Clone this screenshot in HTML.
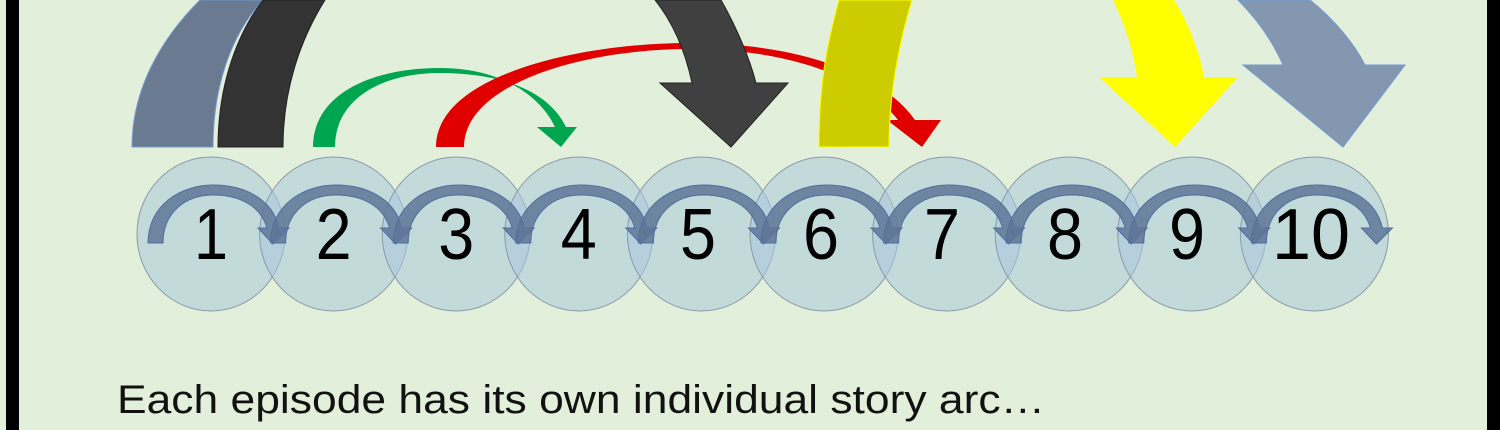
<!DOCTYPE html>
<html><head><meta charset="utf-8"><style>
html,body{margin:0;padding:0;background:#e2efda;}
svg{display:block}
</style></head><body>
<svg width="1500" height="430" viewBox="0 0 1500 430" xmlns="http://www.w3.org/2000/svg">
<rect width="1500" height="430" fill="#e2efda"/>
<rect x="6" y="0" width="13" height="430" fill="#000"/>
<rect x="1487" y="0" width="13" height="430" fill="#000"/>

<path d="M132,147 C132,90 160,40 200,0 L263,0 C235,30 213,80 213,147 Z" fill="#6a7a90" stroke="#6f9bd0" stroke-width="1"/>
<path d="M218,147 C218,80 240,30 263,0 L325,0 C300,40 283,90 283,147 Z" fill="#333" stroke="#222" stroke-width="1"/>

<path d="M313,147 C313,95 370,68 440,68 C500,68 540,95 555,127 L537,127 L561,147 L577,127 L566,127 C548,90 500,73 440,73 C380,73 335,100 335,147 Z" fill="#00a550"/>
<path d="M436,147 C436,75 580,43 690,43 C790,43 880,70 915,120 L941,120 L922,147 L887,120 L898,120 C865,78 790,49 690,49 C580,49 464,85 464,147 Z" fill="#e00000"/>

<path d="M655,0 L721,0 C738,30 750,60 756,83 L788,83 L731,147 L660,83 L692,83 C686,55 675,25 655,0 Z" fill="#404040" stroke="#222" stroke-width="1"/>
<path d="M819,147 C819,80 828,40 839,0 L912,0 C900,40 889,90 889,147 Z" fill="#cccc00" stroke="#ffff00" stroke-width="1"/>
<path d="M1113,0 L1174,0 C1190,25 1200,55 1204,77 L1238,77 L1175,147 L1099,77 L1137,77 C1133,50 1125,25 1113,0 Z" fill="#ffff00"/>
<path d="M1238,0 L1310,0 C1335,20 1355,45 1365,65 L1405,65 L1343,147 L1243,65 L1283,65 C1273,42 1258,20 1238,0 Z" fill="#8497b0" stroke="#6f9bd0" stroke-width="1"/>

<defs>
<g id="c">
<ellipse cx="0" cy="234" rx="74" ry="77" fill="#a9c9dc" fill-opacity="0.55" stroke="#8a99a6" stroke-width="1"/>
</g>
<g id="a">
<path d="M-63,243 C-63,205 -30,185 2,185 C35,185 62,200 68,228 L78,228 L62,244 L47,228 L56,228 C50,207 30,195 2,195 C-25,195 -48,212 -48,243 Z" fill="#5f7596" fill-opacity="0.85" stroke="#4f6f9f" stroke-width="1"/>
</g>
</defs>
<use href="#c" x="211"/><use href="#c" x="333.6"/><use href="#c" x="456.2"/><use href="#c" x="578.8"/><use href="#c" x="701.4"/>
<use href="#c" x="824"/><use href="#c" x="946.6"/><use href="#c" x="1069.2"/><use href="#c" x="1191.8"/><use href="#c" x="1314.4"/>
<use href="#a" x="211"/><use href="#a" x="333.6"/><use href="#a" x="456.2"/><use href="#a" x="578.8"/><use href="#a" x="701.4"/>
<use href="#a" x="824"/><use href="#a" x="946.6"/><use href="#a" x="1069.2"/><use href="#a" x="1191.8"/><use href="#a" x="1314.4"/>

<g font-family="Liberation Sans, sans-serif" font-size="72" fill="#000" text-anchor="middle">
<text x="211" y="259" textLength="34" lengthAdjust="spacingAndGlyphs">1</text>
<text x="333.6" y="259" textLength="36" lengthAdjust="spacingAndGlyphs">2</text>
<text x="456.2" y="259" textLength="36" lengthAdjust="spacingAndGlyphs">3</text>
<text x="578.8" y="259" textLength="36" lengthAdjust="spacingAndGlyphs">4</text>
<text x="698" y="259" textLength="36" lengthAdjust="spacingAndGlyphs">5</text>
<text x="821" y="259" textLength="36" lengthAdjust="spacingAndGlyphs">6</text>
<text x="942" y="259" textLength="36" lengthAdjust="spacingAndGlyphs">7</text>
<text x="1065" y="259" textLength="36" lengthAdjust="spacingAndGlyphs">8</text>
<text x="1187" y="259" textLength="36" lengthAdjust="spacingAndGlyphs">9</text>
<text x="1311" y="259" textLength="78" lengthAdjust="spacingAndGlyphs">10</text>
</g>

<text x="117" y="413" font-family="Liberation Sans, sans-serif" font-size="40" fill="#111" textLength="928" lengthAdjust="spacingAndGlyphs">Each episode has its own individual story arc…</text>
</svg>
</body></html>
